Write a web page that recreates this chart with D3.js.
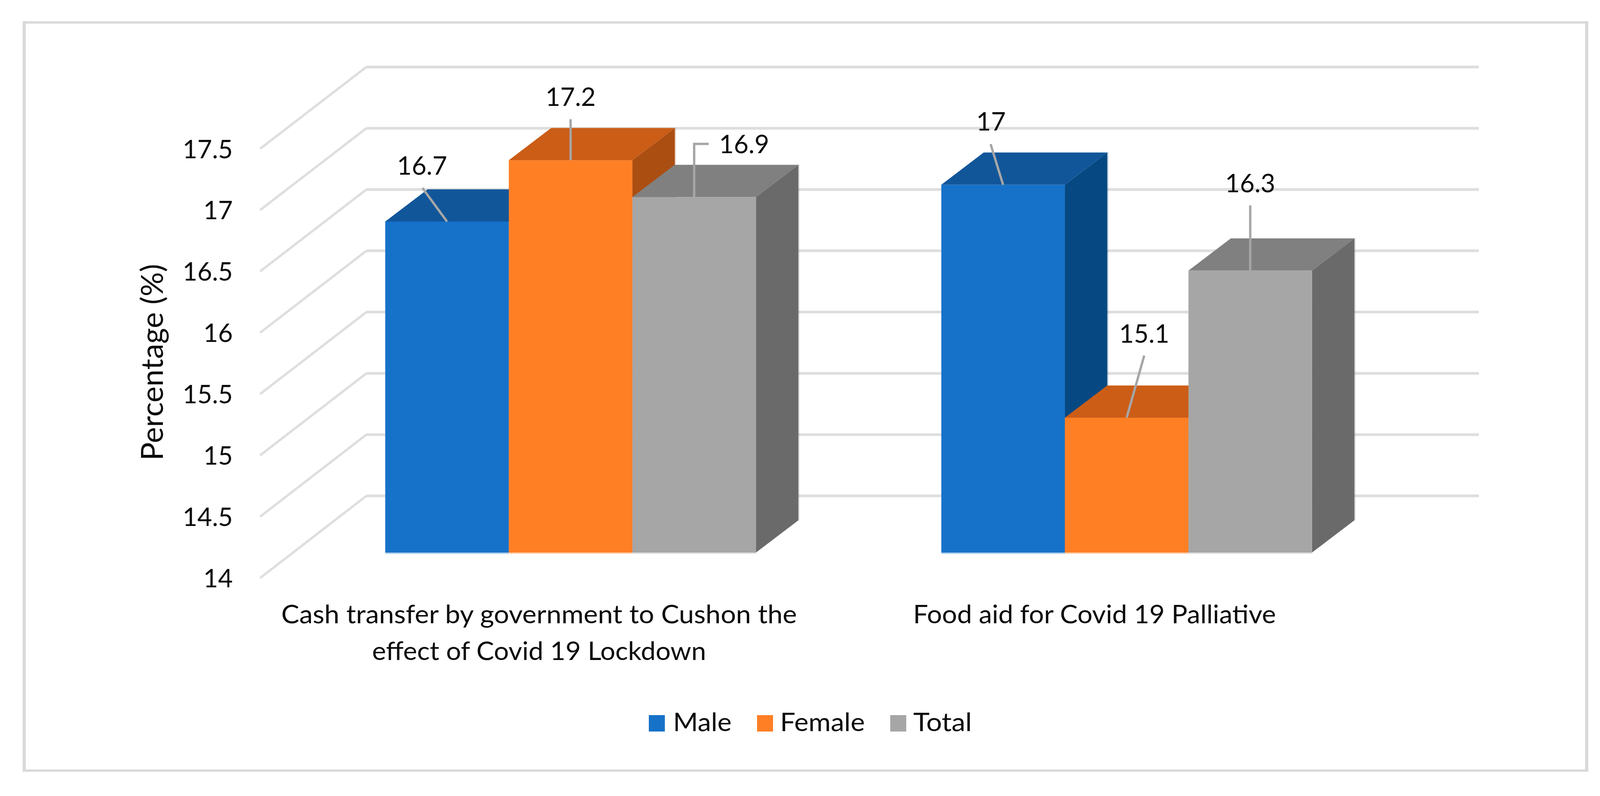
<!DOCTYPE html>
<html>
<head>
<meta charset="utf-8">
<style>html,body{margin:0;padding:0;background:#fff}svg{display:block}text{font-family:Lato,"Noto Sans",sans-serif;fill:#0a0a0a}</style>
<script src="https://cdnjs.cloudflare.com/ajax/libs/d3/7.8.5/d3.min.js"></script>
</head>
<body>
<script>
const categories = ["Cash transfer by government to Cushon the effect of Covid 19 Lockdown", "Food aid for Covid 19 Palliative"];
const categoryLines = [["Cash transfer by government to Cushon the", "effect of Covid 19 Lockdown"], ["Food aid for Covid 19 Palliative"]];
const seriesNames = ["Male", "Female", "Total"];
const maleValues = [16.7, 17];
const femaleValues = [17.2, 15.1];
const totalValues = [16.9, 16.3];
const yTicks = [14, 14.5, 15, 15.5, 16, 16.5, 17, 17.5];
const yTitle = "Percentage (%)";

const W = 4114, H = 2037;
const frontFace = ["#1672C9", "#FF7F25", "#A6A6A6"];
const topFace = ["#12569A", "#CB5D17", "#808080"];
const sideFace = ["#064882", "#AB4E12", "#6A6A6A"];
const gridColor = "#DEDEDE", leaderColor = "#A6A6A6";
const FONT = 65, TITLE = 78;

const svg = d3.select("body").append("svg").attr("width", W).attr("height", H).attr("viewBox", `0 0 ${W} ${H}`);
const frame = svg.append("g").attr("fill", "none").attr("stroke", "#D9D9D9");
frame.append("path").attr("stroke-width", 6).attr("d", "M59,57.5H4066M59,1972H4066");
frame.append("path").attr("stroke-width", 8).attr("d", "M62,54V1975M4062,54V1975");

// three parallel depth planes share the value domain
const yDomain = [14, 17.5];
const yFront = d3.scaleLinear().domain(yDomain).range([1479, 380.5]);
const yBack = d3.scaleLinear().domain(yDomain).range([1269, 171.4]);
const yBar = d3.scaleLinear().domain(yDomain).range([1414, 316]);
const gridFrontX = 666, gridBackX = 938, gridEndX = 3786;
const depthX = 108.5, depthY = 82.5;

const xGroup = d3.scaleBand().domain(categories).range([749, 3596]).paddingInner(1/3).paddingOuter(1/6);
const xSeries = d3.scaleBand().domain(seriesNames).range([0, xGroup.bandwidth()]);

// gridlines
const grid = svg.append("g").attr("fill", "none").attr("stroke", gridColor);
grid.selectAll("path.h").data(yTicks).join("path").attr("class", "h").attr("stroke-width", 7)
  .attr("d", t => `M${gridBackX},${yBack(t)}H${gridEndX}`);
grid.selectAll("path.d").data(yTicks).join("path").attr("class", "d").attr("stroke-width", 6)
  .attr("d", t => `M${gridFrontX},${yFront(t)}L${gridBackX},${yBack(t)}`);

// y tick labels
svg.append("g").selectAll("text").data(yTicks).join("text")
  .attr("x", 596).attr("y", t => yFront(t) + 24).attr("text-anchor", "end")
  .attr("font-size", FONT).text(d => d);

svg.append("text").attr("transform", "translate(417,927) rotate(-90)")
  .attr("text-anchor", "middle").attr("font-size", TITLE)
  .attr("textLength", 503).attr("lengthAdjust", "spacingAndGlyphs").text(yTitle);

// bars
const allValues = [maleValues, femaleValues, totalValues];
const barData = [];
categories.forEach((c, ci) => seriesNames.forEach((s, si) => barData.push({c, ci, s, si, v: allValues[si][ci]})));
const poly = pts => pts.map(p => p.join(",")).join(" ");
const bars = svg.append("g").selectAll("g").data(barData).join("g");
const X0 = d => xGroup(d.c) + xSeries(d.s), X1 = d => X0(d) + xSeries.bandwidth();
// soft floor edge under each bar
bars.append("path").attr("stroke", d => frontFace[d.si]).attr("stroke-opacity", 0.35).attr("stroke-width", 4)
  .attr("d", d => `M${X0(d)},${yBar(14) + 1.5}H${X1(d)}`);
bars.append("path").attr("fill", "none").attr("stroke", d => sideFace[d.si]).attr("stroke-opacity", 0.25).attr("stroke-width", 4)
  .attr("d", d => `M${X1(d) + depthX + 1},${yBar(d.v) - depthY - 1}V${yBar(14) - depthY}`);
bars.append("polygon").attr("fill", d => sideFace[d.si]).attr("points", d => poly([
  [X1(d), yBar(d.v)], [X1(d) + depthX, yBar(d.v) - depthY], [X1(d) + depthX, yBar(14) - depthY], [X1(d), yBar(14)]]));
bars.append("polygon").attr("fill", d => topFace[d.si]).attr("points", d => poly([
  [X0(d), yBar(d.v)], [X0(d) + depthX, yBar(d.v) - depthY], [X1(d) + depthX, yBar(d.v) - depthY], [X1(d), yBar(d.v)]]));
bars.append("rect").attr("fill", d => frontFace[d.si]).attr("x", X0).attr("y", d => yBar(d.v))
  .attr("width", xSeries.bandwidth()).attr("height", d => yBar(14) - yBar(d.v));

// data labels and leader lines, offsets from the bar's front-top centre
const labelLayout = [
  {dx: -64, dy: -120, lx: -63, ly: -86},
  {dx: 0, dy: -139, lx: 0, ly: -105},
  {dx: 128, dy: -112, lx: 37, ly: -136, elbow: true},
  {dx: -31, dy: -139, lx: -32, ly: -104},
  {dx: 45, dy: -192, lx: 45, ly: -159},
  {dx: 0, dy: -200, lx: 0, ly: -167}
];
const layer = svg.append("g");
barData.forEach((d, i) => {
  const L = labelLayout[i], cx = X0(d) + xSeries.bandwidth() / 2, top = yBar(d.v);
  let path = `M${cx},${top}L${cx + L.lx},${top + L.ly}`;
  if (L.elbow) path = `M${cx},${top}V${top + L.ly}H${cx + L.lx}`;
  layer.append("path").attr("d", path).attr("fill", "none").attr("stroke", leaderColor).attr("stroke-width", 6);
  layer.append("text").attr("x", cx + L.dx).attr("y", top + L.dy).attr("text-anchor", "middle")
    .attr("font-size", FONT).text(d.v);
});

// category labels
const catCentre = [1380, 2802];
const catWidths = [[1320, 855], [929]];
categoryLines.forEach((lines, ci) => lines.forEach((t, li) => {
  svg.append("text").attr("x", catCentre[ci]).attr("y", 1594.6 + li * 94.4)
    .attr("text-anchor", "middle").attr("font-size", FONT)
    .attr("textLength", catWidths[ci][li]).attr("lengthAdjust", "spacingAndGlyphs").text(t);
}));

// legend
const legendSwatch = [1661, 1938, 2279], legendText = [1723, 1997, 2338], legendWidths = [150, 217, 150];
seriesNames.forEach((s, i) => {
  svg.append("rect").attr("x", legendSwatch[i]).attr("y", 1830).attr("width", 41).attr("height", 42).attr("fill", frontFace[i]);
  svg.append("text").attr("x", legendText[i]).attr("y", 1871).attr("font-size", FONT)
    .attr("textLength", legendWidths[i]).attr("lengthAdjust", "spacingAndGlyphs").text(s);
});
</script>
</body>
</html>
